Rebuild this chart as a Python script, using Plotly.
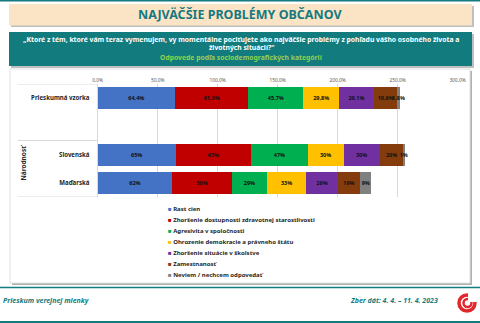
import plotly.graph_objects as go

# ---------------- data ----------------
rows = ["Prieskumná vzorka", "Slovenská", "Maďarská"]
axis_slots = ["Prieskumná vzorka", " ", "Slovenská", "Maďarská"]
row_decimals = [1, 0, 0]

series_names = [
    "Rast cien",
    "Zhoršenie dostupnosti zdravotnej starostlivosti",
    "Agresivita v spoločnosti",
    "Ohrozenie demokracie a právneho štátu",
    "Zhoršenie situácie v školstve",
    "Zamestnanosť",
    "Neviem / nechcem odpovedať",
]
rast_cien = [64.4, 65, 62]
zdravotnictvo = [61.3, 63, 50]
agresivita = [45.7, 47, 29]
demokracia = [29.8, 30, 33]
skolstvo = [29.1, 30, 26]
zamestnanost = [19.6, 20, 19]
neviem = [1.8, 1, 9]
series_values = [rast_cien, zdravotnictvo, agresivita, demokracia, skolstvo, zamestnanost, neviem]
series_colors = ["#4472C4", "#C00000", "#00B050", "#FFC000", "#7030A0", "#843C0C", "#808080"]

x_tickvals = [0, 50, 100, 150, 200, 250, 300]
x_ticktext = ["0,0%", "50,0%", "100,0%", "150,0%", "200,0%", "250,0%", "300,0%"]

title = "NAJVÄČŠIE PROBLÉMY OBČANOV"
question_1 = "„Ktoré z tém, ktoré vám teraz vymenujem, vy momentálne pociťujete ako najväčšie problémy z pohľadu vášho osobného života a"
question_2 = "životných situácií?“"
subtitle = "Odpovede podľa sociodemografických kategórií"
group_label = "Národnosť"
footer_left = "Prieskum verejnej mienky"
footer_right = "Zber dát: 4. 4. – 11. 4. 2023"

# ---------------- helpers ----------------
W, H = 480, 323
def px(x):
    return x / W
def py(y):
    return 1 - y / H

TEAL = "#147B80"
FONT = "Noto Sans"

def fmt(v, d):
    return (f"{v:.{d}f}".replace(".", ",")) + "%"

fig = go.Figure()
for name, vals, col in zip(series_names, series_values, series_colors):
    fig.add_trace(go.Bar(
        y=rows, x=vals, name=name, orientation="h",
        marker=dict(color=col, line=dict(width=0)),
        text=[fmt(v, d) for v, d in zip(vals, row_decimals)],
        textposition="inside", insidetextanchor="middle",
        constraintext="none", textangle=0,
        textfont=dict(family=FONT, size=5.5, color="#111111", weight="bold"),
        showlegend=False, hoverinfo="skip",
    ))

shapes = []
# top teal line
shapes.append(dict(type="rect", xref="paper", yref="paper", x0=0, x1=1, y0=py(0), y1=py(1.5),
                   fillcolor=TEAL, line=dict(width=0), layer="below"))
# header box shadow + box
shapes.append(dict(type="rect", xref="paper", yref="paper", x0=px(11), x1=px(474), y0=py(6), y1=py(27),
                   fillcolor="#BFBFBF", line=dict(width=0), layer="below"))
shapes.append(dict(type="rect", xref="paper", yref="paper", x0=px(9), x1=px(472), y0=py(4), y1=py(25.5),
                   fillcolor="#FBE4C6", line=dict(width=0), layer="below"))
# teal question box
shapes.append(dict(type="rect", xref="paper", yref="paper", x0=px(11), x1=px(474), y0=py(34), y1=py(68),
                   fillcolor="#BFBFBF", line=dict(width=0), layer="below"))
shapes.append(dict(type="rect", xref="paper", yref="paper", x0=px(9), x1=px(472), y0=py(32), y1=py(66),
                   fillcolor="#127B7E", line=dict(width=0), layer="below"))
# chart box
shapes.append(dict(type="rect", xref="paper", yref="paper", x0=px(12), x1=px(472), y0=py(71), y1=py(285),
                   fillcolor="#B0B0B0", line=dict(width=0), layer="below"))
shapes.append(dict(type="rect", xref="paper", yref="paper", x0=px(10), x1=px(470), y0=py(69), y1=py(283),
                   fillcolor="white", line=dict(color="#E0E0E0", width=1), layer="below"))
# left category table lines
for yb in [-0.5, 1.5, 3.5]:
    shapes.append(dict(type="line", xref="paper", yref="y", x0=px(18), x1=px(97.5), y0=yb, y1=yb,
                       line=dict(color="#D9D9D9", width=1)))
# footer lines
shapes.append(dict(type="line", xref="paper", yref="paper", x0=0, x1=1, y0=py(287.5), y1=py(287.5),
                   line=dict(color=TEAL, width=1.5)))
shapes.append(dict(type="rect", xref="paper", yref="paper", x0=0, x1=1, y0=py(321), y1=py(323),
                   fillcolor=TEAL, line=dict(width=0)))
# logo (swirl approximation)
cx, cy = 467, 303
shapes.append(dict(type="circle", xref="paper", yref="paper", x0=px(cx - 8), x1=px(cx + 8),
                   y0=py(cy - 8), y1=py(cy + 8), line=dict(color="#E2262E", width=3.5)))
shapes.append(dict(type="circle", xref="paper", yref="paper", x0=px(cx - 3.5), x1=px(cx + 4.5),
                   y0=py(cy - 4), y1=py(cy + 4), line=dict(color="#E2262E", width=2.5)))
shapes.append(dict(type="rect", xref="paper", yref="paper", x0=px(cx + 1), x1=px(cx + 11),
                   y0=py(cy - 11), y1=py(cy - 1), fillcolor="white", line=dict(width=0)))

def ann(text, x, y, size, color, xanchor="center", **kw):
    return dict(text=text, x=px(x), y=py(y), xref="paper", yref="paper", xanchor=xanchor,
                yanchor="middle", showarrow=False, font=dict(family=FONT, size=size, color=color), **kw)

annotations = [
    ann(f"<b>{title}</b>", 240, 15, 12.5, "#16797F"),
    ann(f"<b>{question_1}</b>", 241, 39, 6.8, "white"),
    ann(f"<b>{question_2}</b>", 241, 48, 6.8, "white"),
    ann(f"<b>{subtitle}</b>", 241, 57.5, 6.8, "#92D050"),
    ann(f"<b>{group_label}</b>", 22.5, 163, 6.5, "#262626", textangle=-90),
    ann(f"<b><i>{footer_left}</i></b>", 1, 300, 7, TEAL, xanchor="left"),
    ann(f"<b><i>{footer_right}</i></b>", 440, 300, 7, TEAL, xanchor="right"),
]
# manual legend
for i, (name, col) in enumerate(zip(series_names, series_colors)):
    annotations.append(ann(f'<span style="color:{col}">■</span> <b>{name}</b>',
                           166, 209 + 11 * i, 6, "#262626", xanchor="left"))

fig.update_layout(
    width=W, height=H, margin=dict(l=0, r=0, t=0, b=0),
    paper_bgcolor="white", plot_bgcolor="rgba(0,0,0,0)",
    barmode="stack", bargap=0.22,
    showlegend=False,
    shapes=shapes, annotations=annotations,
    xaxis=dict(domain=[px(97.7), px(457.5)], range=[0, 300], side="top",
               tickvals=x_tickvals, ticktext=x_ticktext, showgrid=True, gridcolor="#D9D9D9", gridwidth=1,
               zeroline=False, showline=False, ticks="", automargin=False,
               tickfont=dict(family=FONT, size=4.8, color="#595959"), fixedrange=True),
    yaxis=dict(domain=[py(197), py(84)], type="category", categoryorder="array",
               categoryarray=axis_slots, range=[3.5, -0.5], showgrid=False, zeroline=False,
               showline=True, linecolor="#D9D9D9", ticks="", automargin=False, ticklabelstandoff=6,
               tickfont=dict(family=FONT, size=6.1, color="#262626", weight="bold"), fixedrange=True),
    font=dict(family=FONT),
)

fig.write_html("out.html")
